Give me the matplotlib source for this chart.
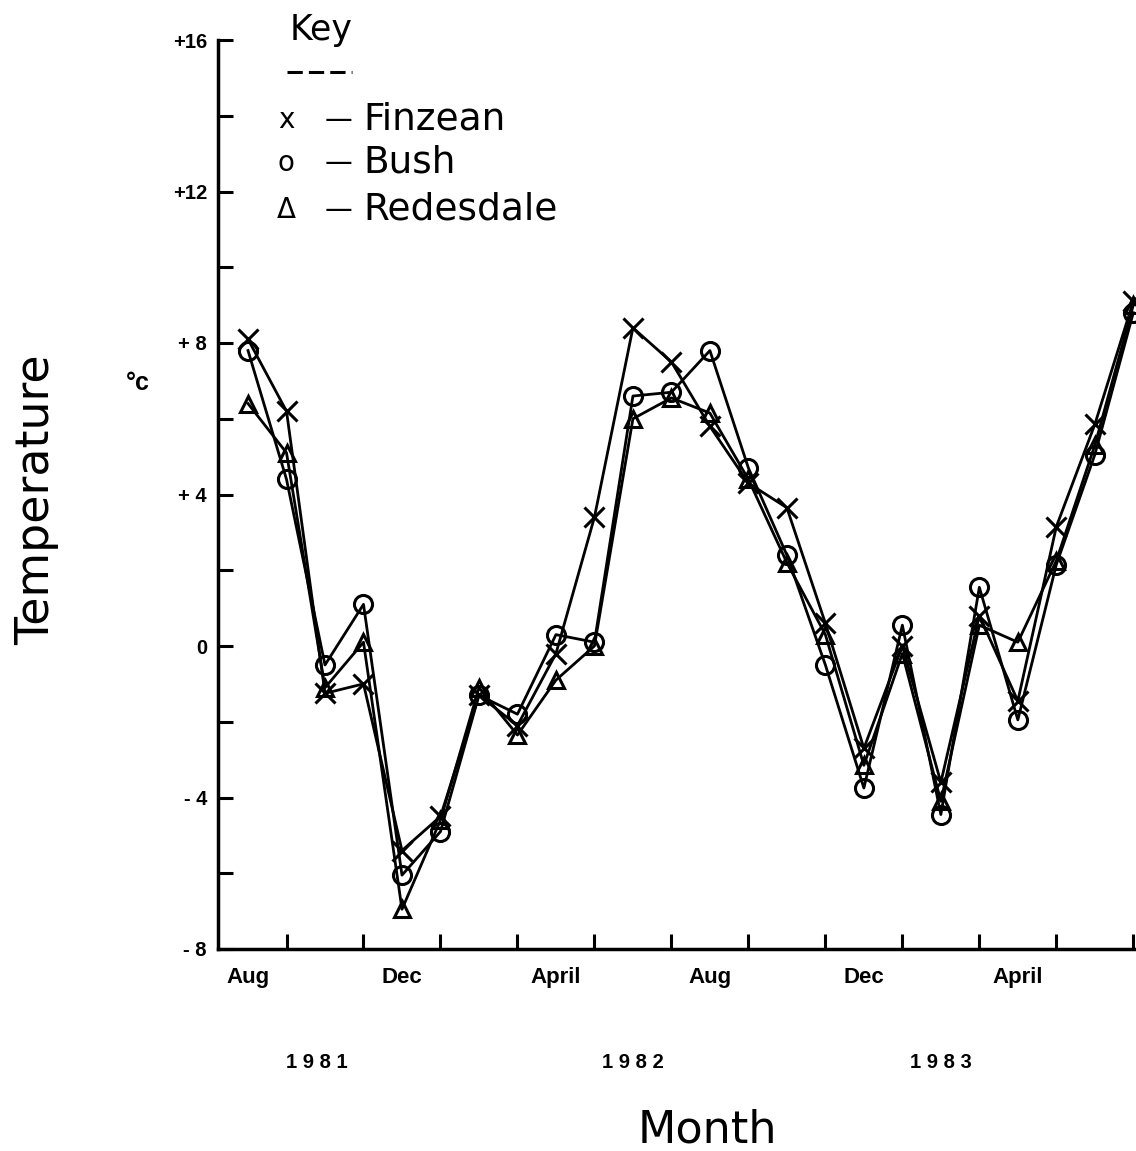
import numpy as np
import matplotlib
matplotlib.use("Agg")
import matplotlib.pyplot as plt
from matplotlib.lines import Line2D
import matplotlib.transforms as mtransforms

# Monthly mean temperatures, Aug 1981 - Jul 1983
months = ['Aug', 'Sep', 'Oct', 'Nov', 'Dec', 'Jan', 'Feb', 'Mar', 'Apr', 'May', 'Jun', 'Jul',
          'Aug', 'Sep', 'Oct', 'Nov', 'Dec', 'Jan', 'Feb', 'Mar', 'Apr', 'May', 'Jun', 'Jul']
finzean = [8.1, 6.2, -1.25, -1.0, -5.4, -4.5, -1.3, -2.1, -0.2, 3.4, 8.4, 7.5,
           5.8, 4.3, 3.65, 0.6, -2.7, 0.0, -3.6, 0.8, -1.45, 3.15, 5.85, 9.1]
bush = [7.8, 4.4, -0.5, 1.1, -6.05, -4.9, -1.3, -1.8, 0.3, 0.1, 6.6, 6.7,
        7.8, 4.7, 2.4, -0.5, -3.75, 0.55, -4.45, 1.55, -1.95, 2.15, 5.05, 8.8]
redesdale = [6.4, 5.1, -1.1, 0.1, -6.95, -4.6, -1.1, -2.35, -0.9, 0.0, 6.0, 6.55,
             6.15, 4.4, 2.2, 0.3, -3.15, -0.2, -4.1, 0.55, 0.1, 2.25, 5.3, 9.0]

label_pos = [0, 4, 8, 12, 16, 20]
label_txt = ['Aug', 'Dec', 'April', 'Aug', 'Dec', 'April']
years = ['1 9 8 1', '1 9 8 2', '1 9 8 3']
year_pos = [1.8, 10.0, 18.0]
y_ticks = [16, 12, 8, 4, 0, -4, -8]
y_labels = ['+16', '+12', '+ 8', '+ 4', '0', '- 4', '- 8']

x = np.arange(len(months))

fig = plt.figure(figsize=(11.36, 11.51), dpi=100)
W, H = 1136, 1151
ax = fig.add_axes([218 / W, 1 - 949 / H, (1136 - 218) / W, (949 - 40) / H])

lw = 2.0
ax.plot(x, finzean, color='black', lw=lw, marker='x', ms=14, mew=2.2, clip_on=False)
ax.plot(x, bush, color='black', lw=lw, marker='o', ms=13, mew=2.2, mfc='none', clip_on=False)
ax.plot(x, redesdale, color='black', lw=lw, marker='^', ms=12, mew=2.2, mfc='none', clip_on=False)

ax.set_xlim(-0.78, 23.07)
ax.set_ylim(-8, 16)

for s in ['top', 'right']:
    ax.spines[s].set_visible(False)
for s in ['left', 'bottom']:
    ax.spines[s].set_linewidth(2.5)

bold = dict(family='Liberation Sans', weight='bold')

# y axis: ticks every 2, labels every 4
ax.set_yticks(np.arange(-8, 17, 2))
ax.set_yticklabels([y_labels[y_ticks.index(v)] if v in y_ticks else '' for v in range(-8, 17, 2)],
                   fontdict=dict(size=14.5, **bold))
ax.tick_params(axis='y', direction='in', length=11, width=2.2, pad=8)

# x axis: ticks on odd months, month labels between
ax.set_xticks(x[1::2])
ax.set_xticklabels([])
ax.tick_params(axis='x', which='major', direction='in', length=11, width=2.2)
ax.set_xticks(label_pos, minor=True)
ax.set_xticklabels(label_txt, minor=True, fontdict=dict(size=16, **bold))
ax.tick_params(axis='x', which='minor', length=0, pad=13)

trans = mtransforms.blended_transform_factory(ax.transData, fig.transFigure)
for yr, p in zip(years, year_pos):
    ax.text(p, 1 - 1063 / H, yr, transform=trans, ha='center', va='center', size=14.5, **bold)

thin = dict(family='DejaVu Sans')
fig.text(707 / W, 1 - 1130 / H, 'Month', ha='center', va='center', size=32, **thin)
fig.text(37 / W, 1 - 500 / H, 'Temperature', ha='center', va='center', rotation=90, size=33, **thin)
fig.text(138 / W, 1 - 383 / H, '°c', ha='center', va='center', size=18, **bold)

# key
fig.text(290 / W, 1 - 30 / H, 'Key', ha='left', va='center', size=25, **thin)
fig.add_artist(Line2D([287 / W, 352 / W], [1 - 72 / H, 1 - 72 / H], color='black', lw=2.2,
                      ls=(0, (5, 2)), transform=fig.transFigure))
names = ['Finzean', 'Bush', 'Redesdale']
syms = ['x', 'o', 'Δ']
rows = [120, 163, 210]
for nm, sy, r in zip(names, syms, rows):
    yy = 1 - r / H
    fig.text(286 / W, yy, sy, ha='center', va='center', size=20, **thin)
    fig.text(338 / W, yy, '—', ha='center', va='center', size=20, **thin)
    fig.text(363 / W, yy, nm, ha='left', va='center', size=27, **thin)

fig.savefig('out.png', dpi=100, facecolor='white')
